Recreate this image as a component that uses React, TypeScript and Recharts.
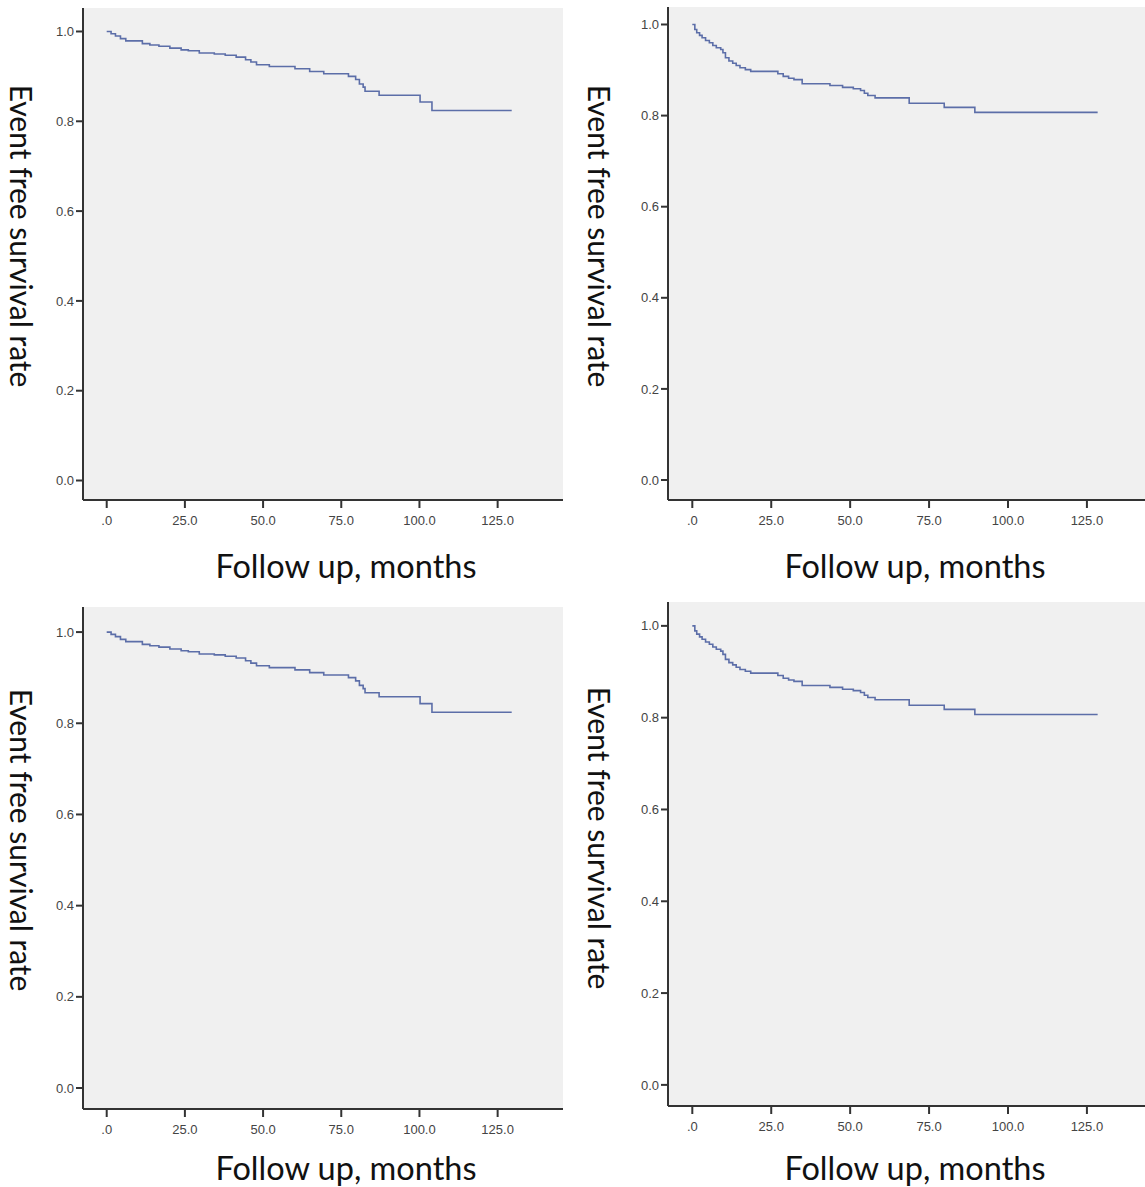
import React from "react";
import { LineChart, Line, XAxis, YAxis, CartesianGrid } from "recharts";

// Kaplan-Meier curve, left column (months, survival)
const timesA = [0, 1.4, 2.8, 4.4, 6.1, 11.4, 13.8, 16.7, 20.2, 23.8, 26.1, 29.6, 34.4, 37.9, 41.4, 44.4, 46.1, 47.9, 52.0, 60.2, 64.9, 69.4, 77.3, 79.6, 80.8, 82.0, 82.6, 87.1, 100.2, 104.0, 129.5];
const survA = [1.0, 0.995, 0.99, 0.984, 0.979, 0.973, 0.97, 0.967, 0.963, 0.959, 0.957, 0.952, 0.95, 0.947, 0.943, 0.937, 0.932, 0.926, 0.922, 0.917, 0.911, 0.906, 0.9, 0.893, 0.883, 0.876, 0.867, 0.858, 0.843, 0.824, 0.824];

// Kaplan-Meier curve, right column
const timesB = [0, 0.8, 1.4, 2.3, 3.1, 4.2, 5.4, 6.5, 7.6, 9.0, 9.7, 10.5, 11.6, 12.8, 13.9, 15.1, 16.8, 18.5, 27.1, 28.8, 30.5, 32.2, 34.8, 43.6, 47.6, 51.0, 53.3, 54.5, 55.6, 57.9, 68.7, 79.8, 89.5, 128.4];
const survB = [1.0, 0.989, 0.982, 0.976, 0.971, 0.965, 0.96, 0.954, 0.949, 0.945, 0.938, 0.927, 0.92, 0.915, 0.91, 0.905, 0.901, 0.897, 0.892, 0.886, 0.882, 0.879, 0.87, 0.866, 0.862, 0.859, 0.855, 0.849, 0.844, 0.839, 0.827, 0.818, 0.807, 0.807];

const xTicks = [0, 25, 50, 75, 100, 125];
const yTicks = [0, 0.2, 0.4, 0.6, 0.8, 1.0];

const xTitle = "Follow up, months";
const yTitle = "Event free survival rate";

const toRows = (t: number[], s: number[]) => t.map((v, i) => ({ t: v, s: s[i] }));
const dataA = toRows(timesA, survA);
const dataB = toRows(timesB, survB);

const tickFont = { fontFamily: "'Liberation Sans Narrow', 'Liberation Sans', Arial, sans-serif", fontSize: 13, fill: "#444" };
const titleFont = "Lato, 'Open Sans', sans-serif";

type PanelProps = {
  data: { t: number; s: number }[];
  chartLeft: number;
  chartWidth: number;
  plotLeft: number;
  plotRight: number;
  plotTop: number;
  plotBottom: number;
  xDomain: [number, number];
  yDomain: [number, number];
  xTitlePos: [number, number];
  yTitlePos: [number, number];
};

function Panel(p: PanelProps) {
  const chartTop = p.plotTop - 5;
  const height = p.plotBottom + 34 - chartTop;
  return (
    <>
      <div style={{ position: "absolute", left: p.chartLeft, top: chartTop }}>
        <LineChart
          width={p.chartWidth}
          height={height}
          data={p.data}
          margin={{ top: 5, bottom: 0, left: p.plotLeft - p.chartLeft - 40, right: p.chartLeft + p.chartWidth - p.plotRight }}
        >
          <CartesianGrid horizontal={false} vertical={false} fill="#f0f0f0" />
          <XAxis
            type="number"
            dataKey="t"
            domain={p.xDomain}
            allowDataOverflow
            ticks={xTicks}
            tickFormatter={(v: number) => (v === 0 ? ".0" : v.toFixed(1))}
            height={34}
            tickSize={8}
            tickMargin={8}
            tick={tickFont}
            axisLine={{ stroke: "#333", strokeWidth: 2 }}
            tickLine={{ stroke: "#333", strokeWidth: 2 }}
          />
          <YAxis
            type="number"
            dataKey="s"
            domain={p.yDomain}
            allowDataOverflow
            ticks={yTicks}
            tickFormatter={(v: number) => v.toFixed(1)}
            width={40}
            tickSize={7}
            tickMargin={2}
            tick={tickFont}
            axisLine={{ stroke: "#333", strokeWidth: 2 }}
            tickLine={{ stroke: "#333", strokeWidth: 2 }}
          />
          <Line type="stepAfter" dataKey="s" stroke="#5c6ea8" strokeWidth={1.6} dot={false} isAnimationActive={false} />
        </LineChart>
      </div>
      <div
        style={{
          position: "absolute",
          left: p.xTitlePos[0],
          top: p.xTitlePos[1],
          transform: "translate(-50%, -50%)",
          whiteSpace: "nowrap",
          fontFamily: titleFont,
          fontSize: 32.5,
          lineHeight: 1,
          color: "#111",
        }}
      >
        {xTitle}
      </div>
      <div
        style={{
          position: "absolute",
          left: p.yTitlePos[0],
          top: p.yTitlePos[1],
          transform: "translate(-50%, -50%) rotate(90deg)",
          whiteSpace: "nowrap",
          fontFamily: titleFont,
          fontSize: 30,
          lineHeight: 1,
          color: "#111",
        }}
      >
        {yTitle}
      </div>
    </>
  );
}

export default function App() {
  return (
    <div style={{ position: "absolute", left: 0, top: 0, width: 1145, height: 1187, background: "#fff", overflow: "hidden" }}>
      <Panel data={dataA} chartLeft={0} chartWidth={580} plotLeft={83} plotRight={563} plotTop={8} plotBottom={500}
        xDomain={[-7.58, 145.9]} yDomain={[-0.0434, 1.0523]} xTitlePos={[346, 566]} yTitlePos={[22, 236]} />
      <Panel data={dataB} chartLeft={580} chartWidth={565} plotLeft={668} plotRight={1145} plotTop={7} plotBottom={500}
        xDomain={[-7.7, 143.4]} yDomain={[-0.0439, 1.0384]} xTitlePos={[915, 566]} yTitlePos={[600, 236]} />
      <Panel data={dataA} chartLeft={0} chartWidth={580} plotLeft={83} plotRight={563} plotTop={607} plotBottom={1109}
        xDomain={[-7.58, 145.9]} yDomain={[-0.046, 1.055]} xTitlePos={[346, 1168]} yTitlePos={[22, 840]} />
      <Panel data={dataB} chartLeft={580} chartWidth={565} plotLeft={668} plotRight={1145} plotTop={602} plotBottom={1106}
        xDomain={[-7.7, 143.4]} yDomain={[-0.046, 1.052]} xTitlePos={[915, 1168]} yTitlePos={[600, 838]} />
    </div>
  );
}
